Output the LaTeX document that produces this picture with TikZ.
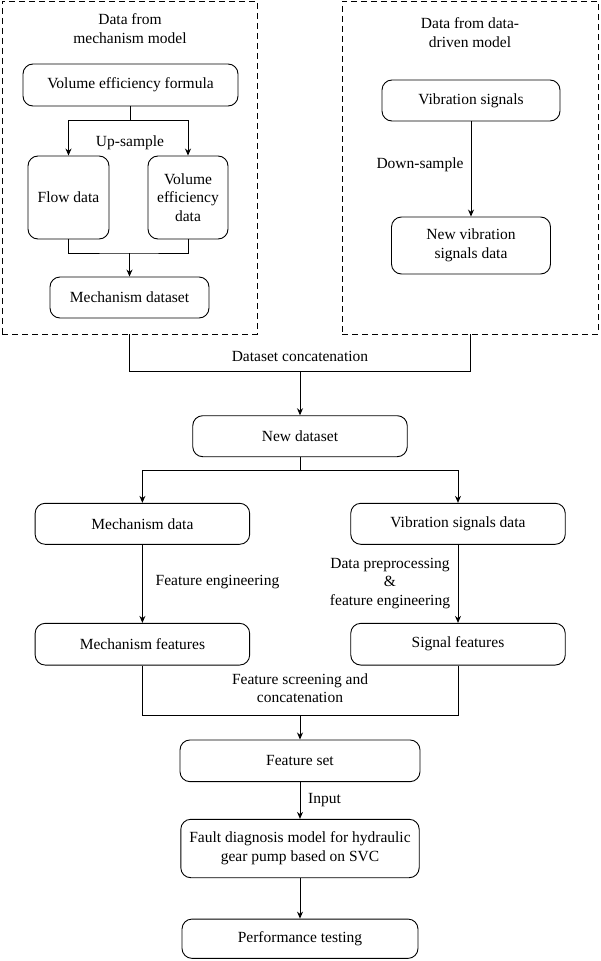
\documentclass[tikz,border=0pt]{standalone}
\usepackage{fontspec}
\setmainfont{Liberation Serif}
\usetikzlibrary{arrows.meta}
\begin{document}
\begin{tikzpicture}[x=1pt,y=-1pt,
  every node/.style={font=\fontsize{15.5}{18.7}\selectfont, align=center, inner sep=0pt},
  box/.style={draw, line width=0.9pt, rounded corners=10pt},
  dbox/.style={draw, line width=0.9pt, dash pattern=on 6pt off 4pt},
  lbl/.style={},
  conn/.style={line width=0.9pt},
  arr/.style={conn, -{Stealth[length=7pt,width=6pt]}}
]
\useasboundingbox (0,0) rectangle (600,961);
% dashed containers
\node[dbox, minimum width=255pt, minimum height=333pt] (lbox) at (129.5,167.5) {};
\node[dbox, minimum width=256pt, minimum height=333pt] (rbox) at (470,167.5) {};
\node[lbl] (ltitle) at (130,28.5) {Data from\\mechanism model};
\node[lbl] (rtitle) at (470,32.5) {Data from data-\\driven model};
% left inner
\node[box, minimum width=215pt, minimum height=42pt] (vef) at (130.5,85) {Volume efficiency formula};
\node[box, minimum width=81pt, minimum height=83pt] (flow) at (68.5,197.5) {Flow data};
\node[box, minimum width=80pt, minimum height=83pt] (ved) at (188,197.5) {Volume\\efficiency\\data};
\node[box, minimum width=159pt, minimum height=41pt] (mds) at (129.5,297.5) {Mechanism dataset};
\node[lbl] (up) at (130,143) {Up-sample};
\coordinate (j1) at (130.5,120);
\coordinate (j2) at (129.5,253);
\draw[conn] (vef) -- (j1);
\draw[arr] (j1) -| (flow);
\draw[arr] (j1) -| (ved);
\draw[conn] (flow.south) |- (j2) -| (ved.south);
\draw[arr] (j2) -- (mds);
% right inner
\node[box, minimum width=178pt, minimum height=41pt] (vs) at (471,100.5) {Vibration signals};
\node[box, minimum width=159pt, minimum height=57pt] (nvs) at (471,245.5) {New vibration\\signals data};
\node[lbl] (down) at (420,165) {Down-sample};
\draw[arr] (vs) -- (nvs);
% concatenation
\coordinate (j3) at (300,371.7);
\draw[conn] (lbox.south) |- (j3) -| (rbox.south);
\node[lbl] (dc) at (300,356) {Dataset concatenation};
\node[box, minimum width=214.5pt, minimum height=41pt] (nd) at (300,436.2) {New dataset};
\draw[arr] (j3) -- (nd);
% split
\coordinate (j4) at (300,470);
\node[box, minimum width=214.5pt, minimum height=41pt] (md) at (142.4,523.8) {Mechanism data};
\node[box, minimum width=214.5pt, minimum height=41pt] (vsd) at (458,523.8) {Vibration signals data};
\draw[conn] (nd) -- (j4);
\draw[arr] (j4) -| (md);
\draw[arr] (j4) -| (vsd);
\node[box, minimum width=214.5pt, minimum height=41.7pt] (mf) at (142.4,644.2) {Mechanism features};
\node[box, minimum width=214.5pt, minimum height=41.7pt] (sf) at (458,644.2) {Signal features};
\draw[arr] (md) -- (mf);
\draw[arr] (vsd) -- (sf);
\node[lbl] (fe) at (217.5,582.3) {Feature engineering};
\node[lbl] (dp) at (390,583.3) {Data preprocessing\\\&\\feature engineering};
% merge
\coordinate (j5) at (300,715.7);
\draw[conn] (mf.south) |- (j5) -| (sf.south);
\node[lbl] (fsc) at (300,688.3) {Feature screening and\\concatenation};
\node[box, minimum width=240pt, minimum height=41.7pt] (fs) at (300,760.8) {Feature set};
\draw[arr] (j5) -- (fs);
\node[box, minimum width=238.4pt, minimum height=58.4pt] (fd) at (300,848.5) {Fault diagnosis model for hydraulic\\gear pump based on SVC};
\draw[arr] (fs) -- (fd);
\node[lbl, anchor=west] (inp) at (308,800) {Input};
\node[box, minimum width=236pt, minimum height=39.3pt] (pt) at (300,938.7) {Performance testing};
\draw[arr] (fd) -- (pt);
\end{tikzpicture}
\end{document}
